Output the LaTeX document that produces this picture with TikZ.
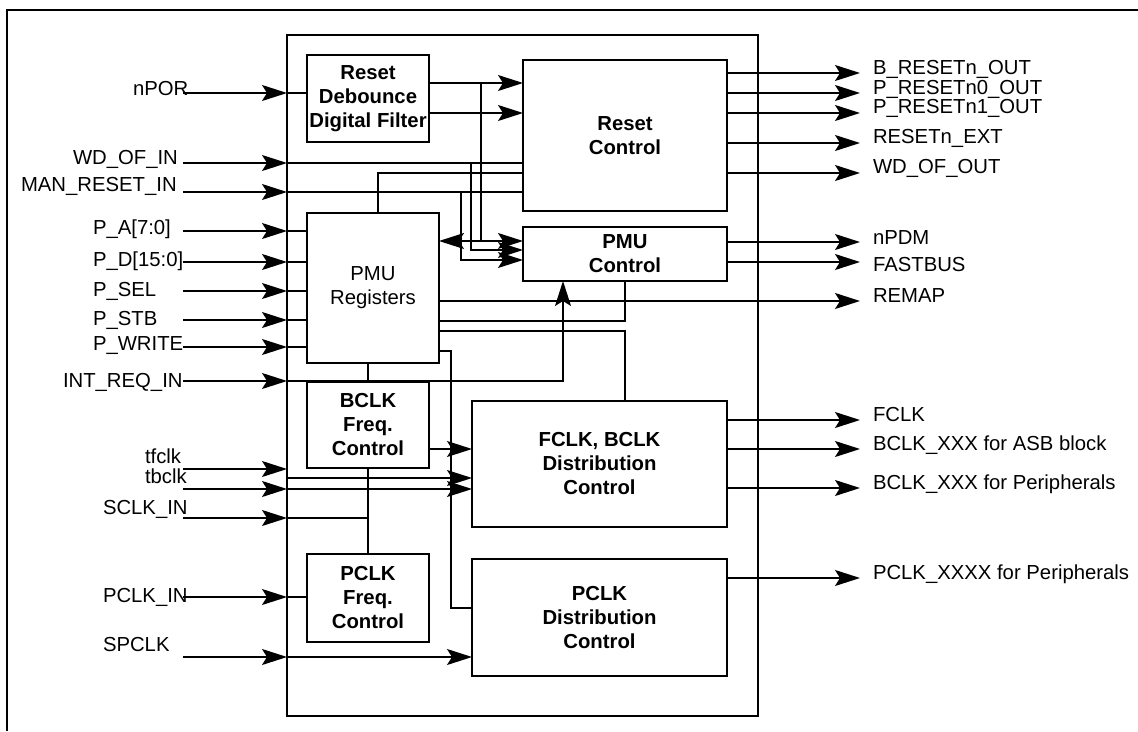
\documentclass[tikz,border=0pt]{standalone}
\usepackage{fontspec}
\setmainfont{Liberation Sans}
\usetikzlibrary{arrows.meta,calc}
\begin{document}
\begin{tikzpicture}[x=1pt,y=-1pt,
  every node/.style={font=\fontsize{20.3}{24}\selectfont, inner sep=0pt, outer sep=0pt},
  wire/.style={line width=1.4pt},
  blk/.style={draw, line width=1.4pt, align=center, font=\fontsize{20.3}{24}\selectfont\bfseries},
  arr/.style={wire, -{Stealth[length=25pt,width=16pt,inset=5pt]}},
  arrtwo/.style={wire, {Stealth[length=25pt,width=16pt,inset=5pt]}-{Stealth[length=25pt,width=16pt,inset=5pt]}},
  lbl/.style={anchor=base west},
]
\useasboundingbox (0,0) rectangle (1138,731);
% outer frame (only top and left visible)
\draw[line width=2.2pt] (7,731) -- (7,10) -- (1138,10);

% main container
\node[draw, line width=1.4pt, minimum width=471pt, minimum height=681pt] (main) at (522.5,375.5) {};

% blocks
\node[blk, minimum width=122pt, minimum height=87pt] (deb) at (368,98.5) {Reset\\Debounce\\Digital Filter};
\node[blk, minimum width=204pt, minimum height=151pt] (rst) at (625,135.5) {Reset\\Control};
\node[blk, minimum width=204pt, minimum height=54pt] (pmuc) at (625,254) {PMU\\Control};
\node[blk, font=\fontsize{20.3}{24}\selectfont\mdseries, minimum width=132pt, minimum height=150pt] (reg) at (373,288) {PMU\\Registers};
\node[blk, minimum width=122pt, minimum height=86pt] (bfq) at (368,425) {BCLK\\Freq.\\Control};
\node[blk, minimum width=255pt, minimum height=126pt] (fbd) at (599.5,464) {FCLK, BCLK\\Distribution\\Control};
\node[blk, minimum width=122pt, minimum height=88pt] (pfq) at (368,598) {PCLK\\Freq.\\Control};
\node[blk, minimum width=255pt, minimum height=117pt] (pcd) at (599.5,617.5) {PCLK\\Distribution\\Control};

% left labels
\node[lbl] (lnpor) at (133,95) {nPOR};
\node[lbl] (lwdin) at (73,164) {WD\_OF\_IN};
\node[lbl] (lman) at (21,191) {MAN\_RESET\_IN};
\node[lbl] (lpa) at (93,234) {P\_A[7:0]};
\node[lbl] (lpd) at (93,266) {P\_D[15:0]};
\node[lbl] (lpsel) at (93,296) {P\_SEL};
\node[lbl] (lpstb) at (93,325) {P\_STB};
\node[lbl] (lpwr) at (93,350) {P\_WRITE};
\node[lbl] (lint) at (63,387) {INT\_REQ\_IN};
\node[lbl] (ltf) at (145,463) {tfclk};
\node[lbl] (ltb) at (145,483) {tbclk};
\node[lbl] (lsclk) at (103,514) {SCLK\_IN};
\node[lbl] (lpclk) at (103,602) {PCLK\_IN};
\node[lbl] (lspclk) at (103,651) {SPCLK};

% right labels
\node[lbl] (rb) at (873,74) {B\_RESETn\_OUT};
\node[lbl] (rp0) at (873,94) {P\_RESETn0\_OUT};
\node[lbl] (rp1) at (873,113) {P\_RESETn1\_OUT};
\node[lbl] (rext) at (873,143) {RESETn\_EXT};
\node[lbl] (rwd) at (873,173) {WD\_OF\_OUT};
\node[lbl] (rnpdm) at (873,244) {nPDM};
\node[lbl] (rfast) at (873,271) {FASTBUS};
\node[lbl] (rremap) at (873,302) {REMAP};
\node[lbl] (rfclk) at (873,421) {FCLK};
\node[lbl] (rasb) at (873,450) {BCLK\_XXX for ASB block};
\node[lbl] (rbper) at (873,489) {BCLK\_XXX for Peripherals};
\node[lbl] (rpper) at (873,579) {PCLK\_XXXX for Peripherals};

% input coordinates
\foreach \n/\y in {1/93,2/163,3/192,4/231,5/262,6/291,7/320,8/347,9/381,10/469,11/489,12/518,13/597,14/657}{
  \coordinate (s\n) at (183,\y);
  \coordinate (b\n) at (287,\y);
}
\foreach \n in {1,...,14} \draw[arr] (s\n) -- (b\n);

\draw[wire] (b1) -- (b1 -| deb.west);
\draw[wire] (b2) -- (b2 -| rst.west);
\draw[wire] (b3) -- (b3 -| rst.west);
\foreach \n in {4,...,8} \draw[wire] (b\n) -- (b\n -| reg.west);
\coordinate (ir) at (563,381);
\draw[arr] (b9) -- (ir) -- (ir |- pmuc.south);
\coordinate (t2) at (287,478);
\draw[arr] (b10) -- (t2) -- (t2 -| fbd.west);
\draw[arr] (b11) -- (b11 -| fbd.west);
\coordinate (sc) at (368,518);
\draw[wire] (b12) -- (sc);
\draw[wire] (b13) -- (b13 -| pfq.west);
\draw[arr] (b14) -- (b14 -| pcd.west);

% debounce to reset control
\coordinate (d1) at (429,83);
\coordinate (d2) at (429,113);
\draw[arr] (d1) -- (d1 -| rst.west);
\draw[arr] (d2) -- (d2 -| rst.west);

% verticals to PMU control
\coordinate (v1) at (481,83); \coordinate (p1) at (481,241);
\draw[wire] (v1) -- (p1);
\draw[arrtwo] (p1 -| reg.east) -- (p1 -| pmuc.west);
\coordinate (v2) at (471,163); \coordinate (p2) at (471,250);
\draw[arr] (v2) -- (p2) -- (p2 -| pmuc.west);
\coordinate (v3) at (461,192); \coordinate (p3) at (461,260);
\draw[arr] (v3) -- (p3) -- (p3 -| pmuc.west);

% registers to reset control
\coordinate (r1) at (378,173);
\draw[wire] (r1 |- reg.north) -- (r1) -- (r1 -| rst.west);

% outputs
\foreach \n/\y in {1/73,2/93,3/113,4/143,5/173,6/242,7/262,8/301,9/420,10/449,11/488,12/578}{
  \coordinate (o\n) at (860,\y);
}
\foreach \n in {1,...,5} \draw[arr] (o\n -| rst.east) -- (o\n);
\draw[arr] (o6 -| pmuc.east) -- (o6);
\draw[arr] (o7 -| pmuc.east) -- (o7);
\draw[arr] (o8 -| reg.east) -- (o8);
\foreach \n in {9,10,11} \draw[arr] (o\n -| fbd.east) -- (o\n);
\draw[arr] (o12 -| pcd.east) -- (o12);

% registers to PMU control / FCLK distribution
\coordinate (m1) at (625,321);
\draw[wire] (m1 -| reg.east) -- (m1) -- (pmuc.south);
\coordinate (m2) at (625,331);
\draw[wire] (m2 -| reg.east) -- (m2) -- (m2 |- fbd.north);

% registers / freq controls
\coordinate (k1) at (368,0);
\draw[wire] (k1 |- reg.south) -- (k1 |- bfq.north);
\draw[wire] (bfq.south) -- (pfq.north);
\coordinate (f1) at (429,449);
\draw[arr] (f1 -| bfq.east) -- (f1 -| fbd.west);

% registers to PCLK distribution
\coordinate (n1) at (451,351); \coordinate (n2) at (451,608);
\draw[wire] (n1 -| reg.east) -- (n1) -- (n2) -- (n2 -| pcd.west);
\end{tikzpicture}
\end{document}
